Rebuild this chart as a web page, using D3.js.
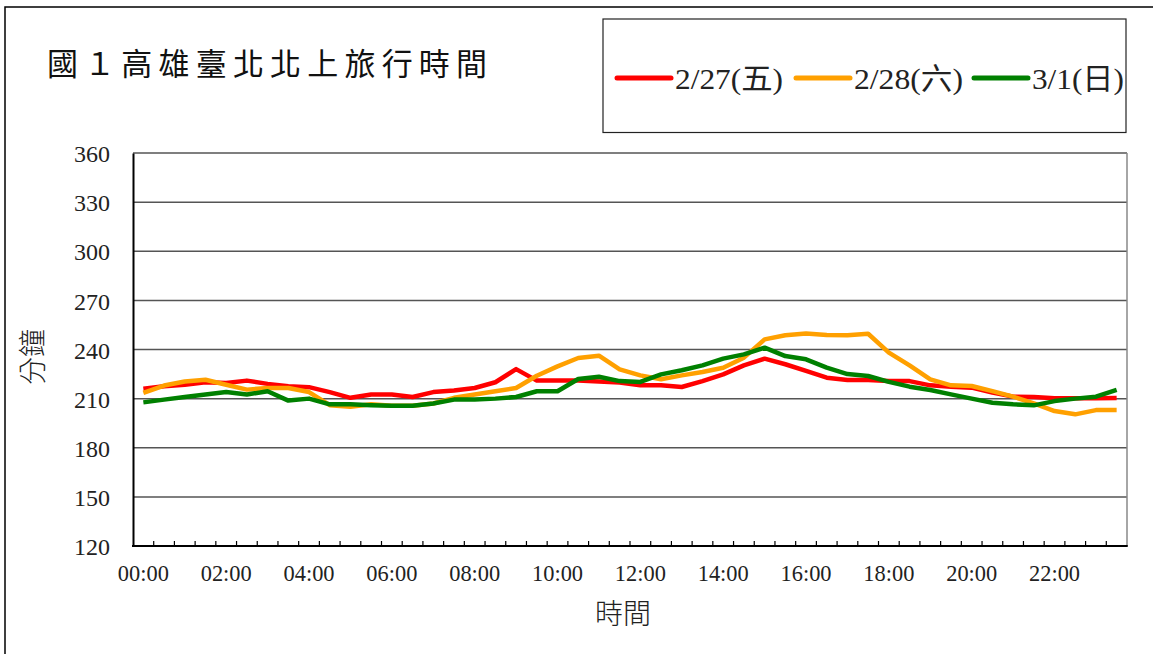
<!DOCTYPE html>
<html>
<head>
<meta charset="utf-8">
<script src="https://cdn.jsdelivr.net/npm/d3@7"></script>
<style>
  html, body { margin: 0; padding: 0; background: #fff; }
  svg { display: block; }
</style>
</head>
<body>
<svg id="chart" width="1153" height="654"></svg>
<script>
const categories = [
  "00:00","00:30","01:00","01:30","02:00","02:30","03:00","03:30",
  "04:00","04:30","05:00","05:30","06:00","06:30","07:00","07:30",
  "08:00","08:30","09:00","09:30","10:00","10:30","11:00","11:30",
  "12:00","12:30","13:00","13:30","14:00","14:30","15:00","15:30",
  "16:00","16:30","17:00","17:30","18:00","18:30","19:00","19:30",
  "20:00","20:30","21:00","21:30","22:00","22:30","23:00","23:30"
];
const xTickLabels = ["00:00","02:00","04:00","06:00","08:00","10:00","12:00","14:00","16:00","18:00","20:00","22:00"];
const yTicks = [120,150,180,210,240,270,300,330,360];

const seriesNames = ["2/27(五)", "2/28(六)", "3/1(日)"];
const seriesColors = ["#ff0000", "#ffa000", "#008000"];

const fri = [216,217.5,218.5,220,219.5,221,219,217.5,217,214,210.5,212.5,
  212.5,211,214,215,216.5,220,228,221,221,221,220.5,219.8,
  218.1,218.1,217.1,220.7,224.8,230.3,234.4,231,226.9,222.8,221.4,221.4,
  220.7,220.7,218.1,217.3,216.7,213.7,211.2,211,210.2,210.2,210.2,210.4];
const sat = [213.5,218,220.5,221.5,218.5,215.5,216.5,216.5,214,206,205,206.5,
  205.7,205.7,207,210.5,212.5,214.5,216.5,224,229.7,234.8,236.2,227.9,
  224.2,221.8,224.2,226.3,228.9,235,246.2,248.7,249.7,248.8,248.7,249.6,
  238.1,230.3,221.8,218.1,217.7,214.6,211.2,207.1,202.4,200.4,203,203];
const sun = [207.7,209.4,211,212.5,214,212.5,214.5,208.8,210,206.5,206.5,206,
  205.7,205.7,207,209.4,209.4,210,211,214.5,214.5,222,223.4,220.7,
  220.2,224.8,227.3,230.3,234.4,237,241.1,236,234,228.9,225,223.8,
  220.2,217.3,215.3,212.6,210,207.5,206.5,205.9,208.5,210,211.2,215.3];
const seriesValues = [fri, sat, sun];

const svg = d3.select("#chart");
const serif = "'Liberation Serif', 'Times New Roman', serif";
const cjk = "'Noto Sans CJK TC', 'Noto Sans CJK SC', sans-serif";

// outer chart border
svg.append("rect").attr("x", 5).attr("y", 7).attr("width", 1300).attr("height", 800)
  .attr("fill", "none").attr("stroke", "#000").attr("stroke-width", 1.5);

const L = 133, R = 1127, T = 153, B = 546;
const x = d3.scaleBand().domain(categories).range([L, R]).padding(0);
const y = d3.scaleLinear().domain([120, 360]).range([B, T]);

// gridlines
svg.append("g").selectAll("line").data(yTicks.filter(v => v > 120)).join("line")
  .attr("x1", L).attr("x2", R).attr("y1", d => y(d)).attr("y2", d => y(d))
  .attr("stroke", "#555").attr("stroke-width", 1.5);

// right border
svg.append("line").attr("x1", R).attr("x2", R).attr("y1", T).attr("y2", B)
  .attr("stroke", "#888").attr("stroke-width", 1.5);

// y axis labels
const yAxis = d3.axisLeft(y).tickValues(yTicks).tickSize(0).tickPadding(23);
const gy = svg.append("g").attr("transform", `translate(${L},0)`).call(yAxis);
gy.select(".domain").attr("stroke", "#000").attr("stroke-width", 2);
gy.selectAll("text").attr("font-family", serif).attr("font-size", 24).attr("fill", "#222")
  .attr("dy", "0.36em");

// x axis: inner ticks at category boundaries
const boundaries = categories.slice(1).map(c => x(c));
svg.append("g").selectAll("line").data(boundaries).join("line")
  .attr("x1", d => d).attr("x2", d => d).attr("y1", B).attr("y2", B - 5)
  .attr("stroke", "#000").attr("stroke-width", 1.2);
svg.append("line").attr("x1", L - 1).attr("x2", R + 0.75).attr("y1", B).attr("y2", B)
  .attr("stroke", "#000").attr("stroke-width", 2);

const xAxis = d3.axisBottom(x).tickValues(xTickLabels).tickSize(0).tickPadding(0);
const gx = svg.append("g").attr("transform", `translate(0,${B})`).call(xAxis);
gx.select(".domain").remove();
gx.selectAll("text").attr("font-family", serif).attr("font-size", 24).attr("fill", "#222")
  .attr("dy", null).attr("y", 35).attr("textLength", 51).attr("lengthAdjust", "spacingAndGlyphs");

// lines
const line = d3.line().x((d, i) => x(categories[i]) + x.bandwidth() / 2).y(d => y(d));
svg.append("g").selectAll("path").data(seriesValues).join("path")
  .attr("d", d => line(d)).attr("fill", "none")
  .attr("stroke", (d, i) => seriesColors[i]).attr("stroke-width", 4.5)
  .attr("stroke-linejoin", "round").attr("stroke-linecap", "butt");

// axis titles
svg.append("text").attr("x", 623).attr("y", 624).attr("text-anchor", "middle")
  .attr("font-family", cjk).attr("font-size", 28).attr("font-weight", 300).attr("fill", "#222")
  .text("時間");
svg.append("text").attr("transform", "translate(43,357) rotate(-90)").attr("text-anchor", "middle")
  .attr("font-family", cjk).attr("font-size", 28).attr("font-weight", 300).attr("fill", "#222")
  .text("分鐘");

// title
svg.append("text").attr("x", 47).attr("y", 75)
  .attr("font-family", cjk).attr("font-size", 31).attr("font-weight", 400).attr("fill", "#111")
  .attr("textLength", 440).attr("lengthAdjust", "spacing")
  .text("國１高雄臺北北上旅行時間");

// legend
svg.append("rect").attr("x", 603).attr("y", 19).attr("width", 523).attr("height", 113.5)
  .attr("fill", "none").attr("stroke", "#222").attr("stroke-width", 1.2);
const legendX = [617, 796, 974];
const legendTextW = [108, 109, 92];
const lg = svg.append("g").selectAll("g").data(seriesNames).join("g")
  .attr("transform", (d, i) => `translate(${legendX[i]},78)`);
lg.append("line").attr("x1", 0).attr("x2", 54).attr("y1", 0).attr("y2", 0)
  .attr("stroke", (d, i) => seriesColors[i]).attr("stroke-width", 5).attr("stroke-linecap", "round");
lg.append("text").attr("x", 58).attr("y", 11)
  .attr("font-family", serif + ", " + cjk).attr("font-size", 30).attr("fill", "#222")
  .attr("textLength", (d, i) => legendTextW[i]).attr("lengthAdjust", "spacingAndGlyphs")
  .text(d => d);
</script>
</body>
</html>
